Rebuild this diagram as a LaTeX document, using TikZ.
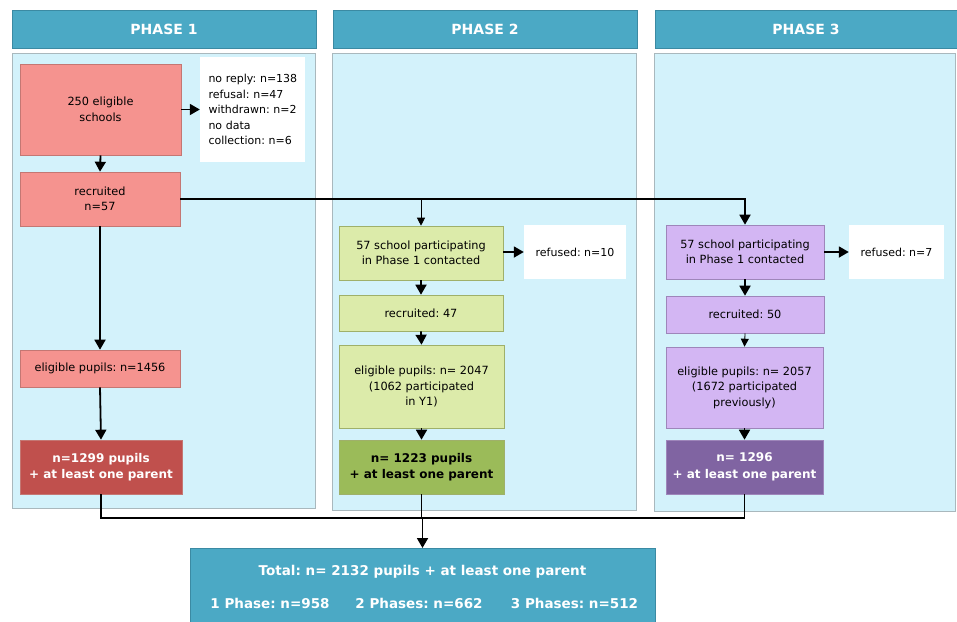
\documentclass[tikz,border=0pt]{standalone}
\usepackage{fontspec}
\setmainfont{DejaVu Sans}
\frenchspacing
\usetikzlibrary{arrows.meta}
\definecolor{hdrc}{HTML}{4BA9C5}
\definecolor{hdrb}{HTML}{3B8AA3}
\definecolor{panelc}{HTML}{D3F2FB}
\definecolor{panelb}{HTML}{A9B8BD}
\definecolor{pa}{HTML}{F5938F}
\definecolor{pab}{HTML}{C47773}
\definecolor{pad}{HTML}{C0504D}
\definecolor{pb}{HTML}{DCEBAA}
\definecolor{pbb}{HTML}{9FB06A}
\definecolor{pbd}{HTML}{9BBB59}
\definecolor{pc}{HTML}{D3B6F3}
\definecolor{pcb}{HTML}{9E86BA}
\definecolor{pcd}{HTML}{8064A2}
\tikzset{
  hdr/.style={fill=hdrc, draw=hdrb, line width=0.6pt, text=white, font=\bfseries\fontsize{14}{16}\selectfont, inner sep=0pt, minimum height=38pt},
  panel/.style={fill=panelc, draw=panelb, line width=0.9pt},
  box/.style={draw, line width=0.6pt, align=center, font=\fontsize{11.3}{15.5}\selectfont, inner sep=0pt},
  wbox/.style={fill=white, draw=none, font=\fontsize{11}{15.5}\selectfont, inner sep=0pt},
  dbox/.style={box, text=white, font=\bfseries\fontsize{12}{16.5}\selectfont},
  ttxt/.style={text=white, font=\bfseries\fontsize{13.5}{16}\selectfont},
  arr/.style={-{Triangle[length=10pt,width=11pt]}, line width=1.8pt},
  tarr/.style={-{Triangle[length=8pt,width=8pt]}, line width=0.8pt},
  bus/.style={line width=1.8pt},
}
\begin{document}
\begin{tikzpicture}[x=1pt,y=-1pt]
\useasboundingbox (0,0) rectangle (957,621);
\fill[white] (0,0) rectangle (957,621);
% headers
\node[hdr, minimum width=304pt] (h1) at (164,29) {PHASE 1};
\node[hdr, minimum width=304pt] (h2) at (485,29) {PHASE 2};
\node[hdr, minimum width=302pt] (h3) at (806,29) {PHASE 3};
% panels
\draw[panel] (12,53) rectangle (315,508);
\draw[panel] (332,53) rectangle (636,510);
\draw[panel] (654,53) rectangle (955,511);
% phase 1
\node[box, fill=pa, draw=pab, minimum width=161pt, minimum height=91pt] (a1) at (100.5,109.5) {250 eligible\\schools};
\node[wbox, minimum width=105pt, minimum height=105pt, text width=96pt, align=left] (w1) at (252.5,109.5) {\hspace*{4pt}no reply: n=138\\\hspace*{4pt}refusal: n=47\\\hspace*{4pt}withdrawn: n=2\\\hspace*{4pt}no data\\\hspace*{4pt}collection: n=6};
\node[box, fill=pa, draw=pab, minimum width=160pt, minimum height=54pt] (b1) at (100,199) {recruited\\n=57};
\node[box, fill=pa, draw=pab, minimum width=160pt, minimum height=37pt] (c1) at (100,368.5) {eligible pupils: n=1456};
\node[dbox, fill=pad, draw=pab, minimum width=162pt, minimum height=54pt] (d1) at (101,467) {n=1299 pupils\\+ at least one parent};
% phase 2
\node[box, fill=pb, draw=pbb, minimum width=164pt, minimum height=54pt] (a2) at (421,253) {57 school participating\\in Phase 1 contacted};
\node[wbox, minimum width=102pt, minimum height=54pt] (r2) at (575,252) {refused: n=10};
\node[box, fill=pb, draw=pbb, minimum width=164pt, minimum height=36pt] (b2) at (421,313) {recruited: 47};
\node[box, fill=pb, draw=pbb, minimum width=165pt, minimum height=83pt] (c2) at (421.5,386.5) {eligible pupils: n= 2047\\(1062 participated\\in Y1)};
\node[dbox, fill=pbd, draw=pbb, minimum width=165pt, minimum height=54pt, text=black] (d2) at (421.5,467) {n= 1223 pupils\\+ at least one parent};
% phase 3
\node[box, fill=pc, draw=pcb, minimum width=158pt, minimum height=54pt] (a3) at (745,252) {57 school participating\\in Phase 1 contacted};
\node[wbox, minimum width=95pt, minimum height=54pt] (r3) at (896.5,252) {refused: n=7};
\node[box, fill=pc, draw=pcb, minimum width=158pt, minimum height=37pt] (b3) at (745,314.5) {recruited: 50};
\node[box, fill=pc, draw=pcb, minimum width=157pt, minimum height=81pt] (c3) at (744.5,387.5) {eligible pupils: n= 2057\\(1672 participated\\previously)};
\node[dbox, fill=pcd, draw=pcb, minimum width=157pt, minimum height=54pt] (d3) at (744.5,467) {n= 1296\\+ at least one parent};
% total
\node[box, fill=hdrc, draw=hdrb, minimum width=465pt, minimum height=82pt, anchor=north] (tot) at (422.5,548) {};
\node[ttxt] (t1) at (422.5,572) {Total: n= 2132 pupils + at least one parent};
\node[ttxt] (t2) at (270,603) {1 Phase: n=958};
\node[ttxt] (t3) at (419,603) {2 Phases: n=662};
\node[ttxt] (t4) at (574.5,603) {3 Phases: n=512};
% connectors phase 1
\draw[arr] (a1.east |- w1.west) -- (w1.west);
\draw[arr] (a1.south) -- (b1.north);
\draw[arr] (b1.south) -- (c1.north);
\draw[arr] (c1.south) -- (d1.north);
\draw[arr] (b1.east) -| (a3.north);
\coordinate (j2) at (a2.north |- b1.east);
\draw[tarr] (j2) -- (a2.north);
% phase 2
\draw[arr] (a2.east |- r2.west) -- (r2.west);
\draw[arr] (a2.south) -- (b2.north);
\draw[arr] (b2.south) -- (c2.north);
\draw[arr] (c2.south) -- (d2.north);
% phase 3
\draw[arr] (a3.east |- r3.west) -- (r3.west);
\draw[arr] (a3.south) -- (b3.north);
\draw[tarr] (b3.south) -- (c3.north);
\draw[arr] (c3.south) -- (d3.north);
% bus to total
\coordinate (busy) at (0,518);
\draw[bus] (d1.south) -- (d1.south |- busy) -- (d3.south |- busy) -- (d3.south);
\draw[bus] (d2.south) -- (d2.south |- busy);
\draw[arr] (tot.north |- busy) -- (tot.north);
\end{tikzpicture}
\end{document}
